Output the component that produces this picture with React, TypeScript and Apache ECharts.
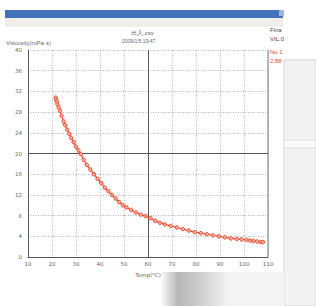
import React, { useEffect, useRef } from "react";
import * as echarts from "echarts";

const temps = [21.5, 21.7, 22.0, 22.3, 22.8, 23.3, 24.0, 24.8, 25.5, 26.3, 27.2, 28.0, 29.0, 30.0, 31.0, 32.0, 33.2, 34.5, 36.0, 37.5, 39.0, 40.5, 42.0, 43.5, 45.0, 46.5, 48.0, 49.5, 51.0, 53.0, 55.0, 57.0, 59.0, 61.0, 63.0, 65.0, 67.0, 69.5, 72.0, 74.5, 77.0, 79.5, 82.0, 84.5, 87.0, 89.5, 92.0, 94.5, 97.0, 99.0, 101.0, 102.5, 104.0, 105.5, 107.0, 108.0];
const viscosity = [30.8, 30.4, 30.0, 29.5, 28.9, 28.3, 27.3, 26.2, 25.5, 24.6, 23.8, 23.0, 22.2, 21.3, 20.6, 19.9, 18.8, 17.8, 16.9, 16.0, 15.1, 14.3, 13.4, 12.7, 12.0, 11.3, 10.6, 10.0, 9.6, 9.1, 8.6, 8.2, 7.9, 7.5, 7.0, 6.6, 6.3, 6.0, 5.7, 5.4, 5.1, 4.8, 4.6, 4.4, 4.2, 4.0, 3.8, 3.6, 3.5, 3.4, 3.3, 3.2, 3.1, 3.0, 2.9, 2.88];
const xTicks = { min: 10, max: 110, interval: 10 };
const yTicks = { min: 0, max: 40, interval: 4 };
const centerLines = { x: 60, y: 20 };
const titleText = "出入.csv";
const dateText = "2009/1/5 19:47";
const yName = "Viscosity(mPa·s)";
const xName = "Temp(°C)";
const sideLabels = ["Fina", "VIL.0"];
const sampleLabels = ["No 1", "2.88"];

export default function App() {
  const ref = useRef<HTMLDivElement>(null);
  useEffect(() => {
    const chart = echarts.init(ref.current!, null, { renderer: "svg" });
    const red = "#e84a2e";
    const txt = "#666";
    chart.setOption({
      animation: false,
      backgroundColor: "#fff",
      textStyle: { fontFamily: "DejaVu Sans" },
      graphic: [
        { type: "rect", shape: { x: 5, y: 10, width: 278, height: 8 }, style: { fill: "#4272b8" } },
        { type: "rect", shape: { x: 279, y: 10, width: 5, height: 6 }, style: { fill: "#9bb6de" } },
        { type: "rect", shape: { x: 5, y: 18, width: 278, height: 9 }, style: { fill: "#f0eee8" } },
        { type: "rect", shape: { x: 284, y: 60, width: 32, height: 246 }, style: { fill: "#f3f3f3", stroke: "#d6d6d6" } },
        { type: "rect", shape: { x: 284, y: 140, width: 32, height: 8 }, style: { fill: "#fafafa", stroke: "#dddddd" } },
        {
          type: "rect",
          shape: { x: 160, y: 272, width: 70, height: 34 },
          style: {
            fill: new echarts.graphic.LinearGradient(0, 0, 1, 0, [
              { offset: 0, color: "#ffffff" },
              { offset: 0.25, color: "#b8b8b8" },
              { offset: 0.45, color: "#c4c4c4" },
              { offset: 1, color: "#f4f4f4" },
            ]),
          },
        },
        { type: "rect", shape: { x: 230, y: 272, width: 54, height: 34 }, style: { fill: "#f4f4f4" } },
        { type: "text", left: 131, top: 30, style: { text: titleText, fontSize: 6, fill: txt } },
        { type: "text", left: 122, top: 38, style: { text: dateText, fontSize: 5, fill: txt } },
        { type: "text", left: 6, top: 40, style: { text: yName, fontSize: 6, fill: txt } },
        { type: "text", left: 270, top: 27, style: { text: sideLabels[0], fontSize: 6, fill: "#444" } },
        { type: "text", left: 270, top: 36, style: { text: sideLabels[1], fontSize: 6, fill: "#444" } },
        { type: "text", left: 270, top: 49, style: { text: sampleLabels[0], fontSize: 6, fill: red } },
        { type: "text", left: 270, top: 58, style: { text: sampleLabels[1], fontSize: 6, fill: red } },
      ],
      grid: { left: 28, right: 48, top: 50, bottom: 49 },
      xAxis: {
        type: "value",
        min: xTicks.min,
        max: xTicks.max,
        interval: xTicks.interval,
        name: xName,
        nameLocation: "middle",
        nameGap: 9,
        nameTextStyle: { fontSize: 5.5, color: txt },
        axisLine: { show: true, lineStyle: { color: "#555", width: 1 } },
        axisTick: { show: false },
        axisLabel: { fontSize: 5.5, color: txt, margin: 4 },
        splitLine: { show: true, lineStyle: { color: "#b5b5b5", type: [1, 1.5], width: 1 } },
      },
      yAxis: {
        type: "value",
        min: yTicks.min,
        max: yTicks.max,
        interval: yTicks.interval,
        axisLine: { show: true, lineStyle: { color: "#555", width: 1 } },
        axisTick: { show: false },
        axisLabel: { fontSize: 5.5, color: txt, margin: 6 },
        splitLine: { show: true, lineStyle: { color: "#b5b5b5", type: [1, 1.5], width: 1 } },
      },
      series: [
        {
          type: "line",
          data: temps.map((t, i) => [t, viscosity[i]]),
          symbol: "circle",
          symbolSize: 3.5,
          itemStyle: { color: "#f7b0a0", borderColor: red, borderWidth: 1 },
          lineStyle: { color: red, width: 1.2 },
          z: 5,
          markLine: {
            silent: true,
            symbol: "none",
            label: { show: false },
            lineStyle: { color: "#555", type: "solid", width: 1 },
            data: [{ xAxis: centerLines.x }, { yAxis: centerLines.y }],
            z: 2,
          },
        },
        {
          type: "line",
          data: [[xTicks.max, yTicks.min], [xTicks.max, yTicks.max]],
          symbol: "none",
          lineStyle: { color: "#777", width: 1 },
          silent: true,
        },
      ],
    });
    return () => chart.dispose();
  }, []);
  return <div ref={ref} style={{ position: "fixed", left: 0, top: 0, width: 316, height: 306 }} />;
}
